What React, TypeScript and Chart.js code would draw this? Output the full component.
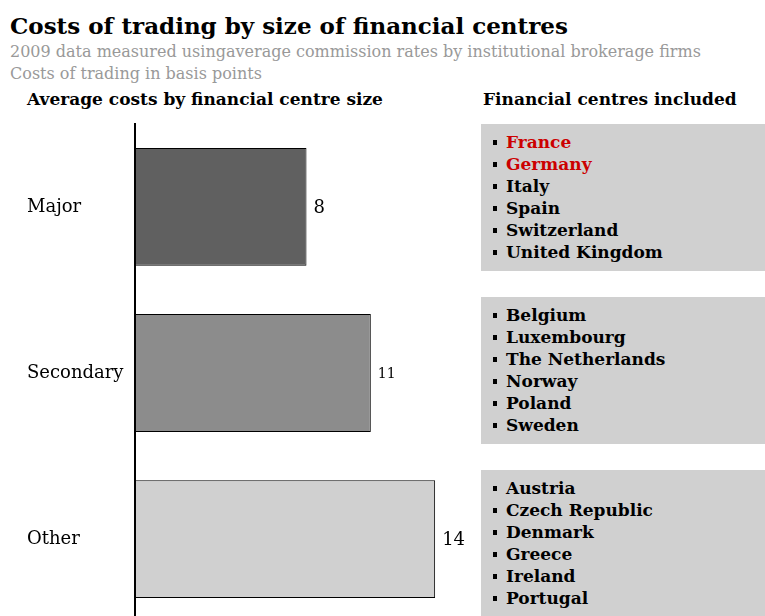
import React, { useEffect, useRef } from "react";
import { Chart, registerables } from "chart.js";

Chart.register(...registerables);

const TITLE = "Costs of trading by size of financial centres";
const SUBTITLE_1 = "2009 data measured usingaverage commission rates by institutional brokerage firms";
const SUBTITLE_2 = "Costs of trading in basis points";
const LEFT_HEADER = "Average costs by financial centre size";
const RIGHT_HEADER = "Financial centres included";

const categories = ["Major", "Secondary", "Other"];
const costs = [8, 11, 14];
const barColors = ["#606060", "#8c8c8c", "#d0d0d0"];
const valueLabelSizes = [18, 14, 18];

const majorCentres = ["France", "Germany", "Italy", "Spain", "Switzerland", "United Kingdom"];
const secondaryCentres = ["Belgium", "Luxembourg", "The Netherlands", "Norway", "Poland", "Sweden"];
const otherCentres = ["Austria", "Czech Republic", "Denmark", "Greece", "Ireland", "Portugal"];
const highlighted = ["France", "Germany"];

const SERIF = "'DejaVu Serif', serif";

const valueLabelPlugin = {
  id: "valueLabels",
  afterDatasetsDraw(chart: any) {
    const ctx = chart.ctx;
    const meta = chart.getDatasetMeta(0);
    ctx.save();
    ctx.fillStyle = "#000";
    ctx.textBaseline = "middle";
    ctx.textAlign = "left";
    meta.data.forEach((bar: any, i: number) => {
      ctx.font = `${valueLabelSizes[i]}px ${SERIF}`;
      ctx.fillText(String(costs[i]), bar.x + 7, bar.y + 1);
    });
    ctx.restore();
  },
};

function BarPanel() {
  const ref = useRef<HTMLCanvasElement>(null);
  useEffect(() => {
    if (!ref.current) return;
    const chart = new Chart(ref.current, {
      type: "bar",
      data: {
        labels: categories,
        datasets: [
          {
            data: costs,
            backgroundColor: barColors,
            borderColor: "#000",
            borderWidth: 1,
            borderSkipped: false,
            barPercentage: 0.71,
            categoryPercentage: 1,
          },
        ],
      },
      options: {
        indexAxis: "y",
        animation: false,
        responsive: false,
        maintainAspectRatio: false,
        layout: { padding: { left: 27, top: 0, right: 2, bottom: 0 } },
        plugins: { legend: { display: false }, tooltip: { enabled: false } },
        scales: {
          x: { display: false, min: 0, max: 16 },
          y: {
            grid: { display: false, drawTicks: false },
            border: { display: true, color: "#000", width: 2 },
            ticks: {
              crossAlign: "far",
              color: "#000",
              font: { family: SERIF, size: 18 },
            },
            afterFit(scale: any) {
              scale.width = 108;
            },
          },
        },
      },
      plugins: [valueLabelPlugin],
    } as any);
    return () => chart.destroy();
  }, []);
  return (
    <canvas
      ref={ref}
      width={480}
      height={526}
      style={{ position: "absolute", left: 0, top: 110, width: 480, height: 526 }}
    />
  );
}

function CentreBox({ items, top, height }: { items: string[]; top: number; height: number }) {
  return (
    <div
      style={{
        position: "absolute",
        left: 481,
        top,
        width: 284,
        height,
        background: "#d0d0d0",
        paddingTop: 7,
        boxSizing: "border-box",
      }}
    >
      {items.map((name) => (
        <div
          key={name}
          style={{
            height: 22,
            lineHeight: "22px",
            fontFamily: SERIF,
            fontWeight: "bold",
            fontSize: 17,
            color: highlighted.includes(name) ? "#cc0000" : "#000",
            whiteSpace: "nowrap",
            position: "relative",
          }}
        >
          <span
            style={{
              position: "absolute",
              left: 12,
              top: 9,
              width: 4,
              height: 5,
              background: "#000",
            }}
          />
          <span style={{ position: "absolute", left: 25 }}>{name}</span>
        </div>
      ))}
    </div>
  );
}

export default function App() {
  return (
    <div
      style={{
        position: "absolute",
        left: 0,
        top: 0,
        width: 765,
        height: 616,
        overflow: "hidden",
        background: "#fff",
        fontFamily: SERIF,
      }}
    >
      <div style={{ position: "absolute", left: 10, top: 12, fontSize: 23, lineHeight: "28px", fontWeight: "bold", color: "#000", whiteSpace: "nowrap" }}>
        {TITLE}
      </div>
      <div style={{ position: "absolute", left: 10, top: 42, fontSize: 16, lineHeight: "20px", color: "#999", whiteSpace: "nowrap" }}>
        {SUBTITLE_1}
      </div>
      <div style={{ position: "absolute", left: 10, top: 64, fontSize: 16, lineHeight: "20px", color: "#999", whiteSpace: "nowrap" }}>
        {SUBTITLE_2}
      </div>
      <div style={{ position: "absolute", left: 27, top: 89, fontSize: 17, lineHeight: "20px", fontWeight: "bold", color: "#000", whiteSpace: "nowrap" }}>
        {LEFT_HEADER}
      </div>
      <div style={{ position: "absolute", left: 483, top: 89, fontSize: 17, lineHeight: "20px", fontWeight: "bold", color: "#000", whiteSpace: "nowrap" }}>
        {RIGHT_HEADER}
      </div>
      <BarPanel />
      <CentreBox items={majorCentres} top={124} height={147} />
      <CentreBox items={secondaryCentres} top={297} height={147} />
      <CentreBox items={otherCentres} top={470} height={160} />
    </div>
  );
}
